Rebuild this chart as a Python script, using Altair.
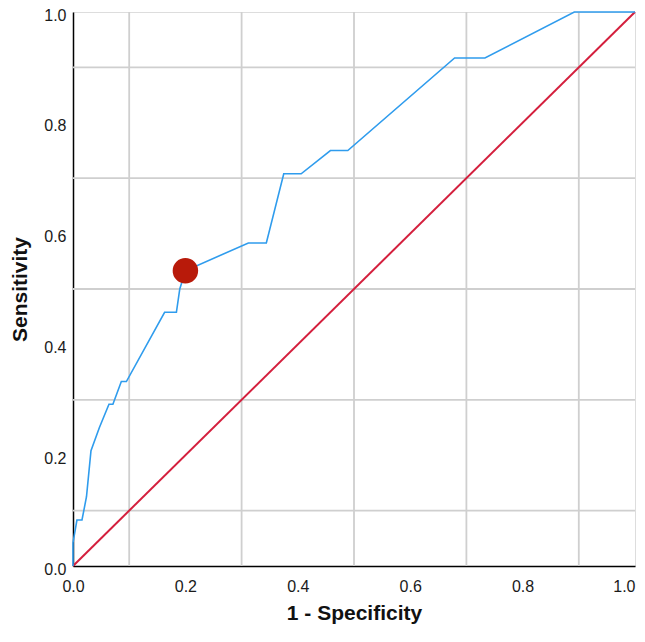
import altair as alt
import pandas as pd

# ROC curve points (1 - specificity, sensitivity)
fpr = [0.0, 0.0, 0.007, 0.016, 0.024, 0.032, 0.047, 0.064, 0.071, 0.086, 0.095,
       0.163, 0.184, 0.190, 0.200, 0.312, 0.344, 0.375, 0.406, 0.458, 0.489,
       0.679, 0.733, 0.892, 1.0]
tpr = [0.0, 0.042, 0.083, 0.083, 0.125, 0.208, 0.250, 0.292, 0.292, 0.333, 0.333,
       0.458, 0.458, 0.500, 0.533, 0.583, 0.583, 0.708, 0.708, 0.750, 0.750,
       0.917, 0.917, 1.0, 1.0]
# reference diagonal
diag_x = [0.0, 1.0]
diag_y = [0.0, 1.0]
# highlighted cut-off point
cut_x = [0.200]
cut_y = [0.533]
# grid positions and tick labels
grid_vals = [0.1, 0.3, 0.5, 0.7, 0.9]
tick_vals = [0.0, 0.2, 0.4, 0.6, 0.8, 1.0]

roc = pd.DataFrame({"x": fpr, "y": tpr, "i": list(range(len(fpr)))})
diag = pd.DataFrame({"x": diag_x, "y": diag_y})
cut = pd.DataFrame({"x": cut_x, "y": cut_y})
grid = pd.DataFrame({"v": grid_vals})

FONT = "Liberation Sans"
xs = alt.Scale(domain=[0, 1], nice=False, zero=False)
ys = alt.Scale(domain=[0, 1], nice=False, zero=False)

xaxis = alt.Axis(values=tick_vals, format=".1f", grid=False, ticks=False,
                 domainColor="#000000", domainWidth=1.5, labelFlush=False,
                 labelAlign={"expr": "datum.value == 1 ? 'right' : 'center'"},
                 labelPadding=12, labelFontSize=16, labelFont=FONT, labelColor="#1a1a1a",
                 title="1 - Specificity", titleFont=FONT, titleFontSize=21,
                 titleFontWeight="bold", titleColor="#111111", titlePadding=8)
yaxis = alt.Axis(values=tick_vals, format=".1f", grid=False, ticks=False,
                 domainColor="#000000", domainWidth=1.5, labelFlush=False,
                 labelPadding=7, labelFontSize=16, labelFont=FONT, labelColor="#1a1a1a",
                 labelOffset=3,
                 title="Sensitivity", titleFont=FONT, titleFontSize=21,
                 titleFontWeight="bold", titleColor="#111111", titlePadding=13)

vgrid = alt.Chart(grid).mark_rule(color="#cfcfcf", strokeWidth=1.8).encode(
    x=alt.X("v:Q", scale=xs, axis=xaxis))
hgrid = alt.Chart(grid).mark_rule(color="#cfcfcf", strokeWidth=1.8).encode(
    y=alt.Y("v:Q", scale=ys, axis=yaxis))

diag_line = alt.Chart(diag).mark_line(color="#d41f3d", strokeWidth=2).encode(
    x=alt.X("x:Q", scale=xs), y=alt.Y("y:Q", scale=ys))

roc_line = alt.Chart(roc).mark_line(color="#2f9ced", strokeWidth=1.6).encode(
    x=alt.X("x:Q", scale=xs), y=alt.Y("y:Q", scale=ys), order="i:Q")

cut_pt = alt.Chart(cut).mark_point(filled=True, color="#b81a0a", opacity=1, size=650).encode(
    x=alt.X("x:Q", scale=xs), y=alt.Y("y:Q", scale=ys))

chart = alt.layer(vgrid, hgrid, diag_line, roc_line, cut_pt).properties(
    width=562, height=554,
    autosize=alt.AutoSizeParams(type="none"),
    padding={"left": 65, "top": 4, "right": 2, "bottom": 60},
).configure_view(stroke=None).configure(background="white")

chart.save("out.html", embed_options={"renderer": "svg", "actions": False})
